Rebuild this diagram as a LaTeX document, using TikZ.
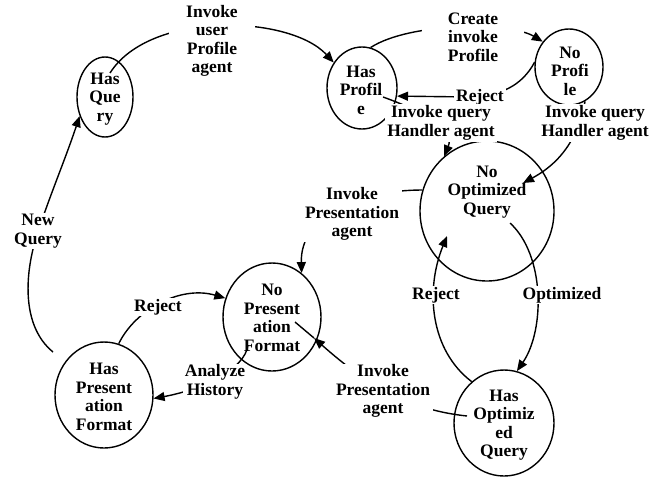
\documentclass[tikz,border=0pt]{standalone}
\usepackage{fontspec}
\setmainfont{Liberation Serif}
\usetikzlibrary{arrows.meta,shapes.geometric}
\begin{document}
\begin{tikzpicture}[x=1pt,y=-1pt,
  every node/.style={font=\fontsize{17.5}{18.5}\selectfont\bfseries, align=center},
  state/.style={draw, ellipse, line width=1.4pt, inner sep=0pt},
  statetext/.style={inner sep=0pt},
  tag/.style={fill=white, inner xsep=2pt, inner ysep=1pt},
  link/.style={line width=1.4pt},
  arr/.style={link, -{Triangle[length=11pt,width=9pt]}}]

\useasboundingbox (0,0) rectangle (668,477);

% states
\node[state, minimum width=56pt,  minimum height=80pt]  (hq)  at (105,97)  {};
\node[state, minimum width=70pt,  minimum height=82pt]  (hp)  at (362,88)  {};
\node[state, minimum width=68pt,  minimum height=76pt]  (np)  at (569,67)  {};
\node[state, minimum width=134pt, minimum height=140pt] (noq) at (487,211) {};
\node[state, minimum width=98pt,  minimum height=108pt] (npf) at (272,317) {};
\node[state, minimum width=98pt,  minimum height=106pt] (hpf) at (104,395) {};
\node[state, minimum width=100pt, minimum height=106pt] (hoq) at (504,423) {};

\node[statetext] (hqt)  at (105,99)  {Has\\Que\\ry};
\node[statetext] (hpt)  at (361,90)  {Has\\Profil\\e};
\node[statetext] (npt)  at (570,71)  {No\\Profi\\le};
\node[statetext] (noqt) at (487,192) {No\\Optimized\\Query};
\node[statetext] (npft) at (272,318) {No\\Present\\ation\\Format};
\node[statetext] (hpft) at (104,397) {Has\\Present\\ation\\Format};
\node[statetext] (hoqt) at (504,425) {Has\\Optimiz\\ed\\Query};

% connector ends that lie off the state borders
\coordinate (hq-out)   at (110,73);
\coordinate (hp-out)   at (383,97);
\coordinate (noq-in1)  at (523,183);
\coordinate (noq-out)  at (510,223);
\coordinate (noq-in2)  at (447,236);
\coordinate (hoq-out)  at (467,416);
\coordinate (npf-tip)  at (314,338);
\coordinate (npf-end)  at (295,322);
\coordinate (npf-out)  at (248,345);
\coordinate (hpf-out)  at (53,352);

% connectors
\draw[arr] (hq-out) .. controls (150,10) and (290,15) .. (hp.138);
\draw[arr] (hp.78) .. controls (410,22) and (510,22) .. (np.136);
\draw[arr] (np.172) .. controls (522,86) and (500,96) .. (470,97) -- (hp.-13);
\draw[arr] (hp-out) .. controls (425,112) and (455,130) .. (noq.128);
\draw[arr] (np.-65) .. controls (580,130) and (566,160) .. (noq-in1);
\draw[arr] (noq-out) .. controls (545,255) and (545,330) .. (hoq.76);
\draw[arr] (hoq.128) .. controls (430,350) and (425,290) .. (noq-in2);
\draw[arr] (noq.162) .. controls (360,190) and (300,215) .. (npf.56);
\draw[arr] (hoq-out) .. controls (410,410) and (368,386) .. (npf-tip);
\draw[link] (npf-tip) -- (npf-end);
\draw[arr] (npf-out) .. controls (245,370) and (200,390) .. (hpf.-4);
\draw[arr] (hpf.74) .. controls (135,310) and (180,285) .. (npf.158);
\draw[arr] (hpf-out) .. controls (20,325) and (25,270) .. (38,232)
                     .. controls (50,195) and (65,160) .. (hq.217);

% transition labels
\node[tag, inner xsep=17pt] (l-user)   at (212,41)  {Invoke\\user\\Profile\\agent};
\node[tag, inner xsep=26pt] (l-create) at (473,37)  {Create\\invoke\\Profile};
\node[tag] (l-rej1)  at (480,97)  {Reject};
\node[tag, inner ysep=2pt] (l-qh1)   at (441,123) {Invoke query\\Handler agent};
\node[tag, inner ysep=2pt] (l-qh2)   at (595,123) {Invoke query\\Handler agent};
\node[tag] (l-opt)   at (562,295) {Optimized};
\node[tag] (l-rej2)  at (436,295) {Reject};
\node[tag, inner xsep=3pt] (l-pres1) at (352,214) {Invoke\\Presentation\\agent};
\node[tag, inner xsep=3pt] (l-pres2) at (383,391) {Invoke\\Presentation\\agent};
\node[tag] (l-hist)  at (215,382) {Analyze\\History};
\node[tag] (l-rej3)  at (158,307) {Reject};
\node[tag] (l-new)   at (38,231)  {New\\Query};
\end{tikzpicture}
\end{document}
